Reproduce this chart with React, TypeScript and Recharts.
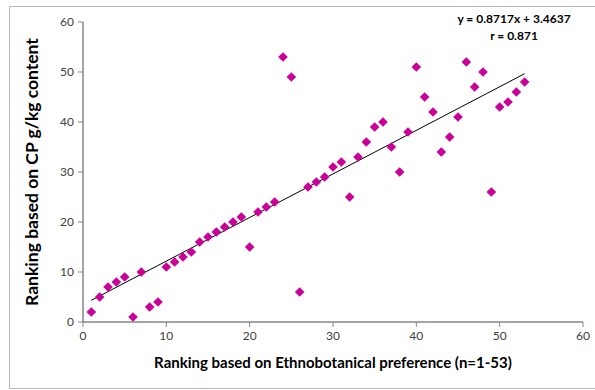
import React from 'react';
import {
  ScatterChart,
  Scatter,
  XAxis,
  YAxis,
  ReferenceLine,
  Label,
} from 'recharts';

// ranking pairs (x = ethnobotanical rank, y = CP rank)
const ethnoRank = [
  1, 2, 3, 4, 5, 6, 7, 8, 9, 10, 11, 12, 13, 14, 15, 16, 17, 18, 19, 20, 21, 22, 23, 24, 25, 26, 27,
  28, 29, 30, 31, 32, 33, 34, 35, 36, 37, 38, 39, 40, 41, 42, 43, 44, 45, 46, 47, 48, 49, 50, 51, 52, 53,
];
const cpRank = [
  2, 5, 7, 8, 9, 1, 10, 3, 4, 11, 12, 13, 14, 16, 17, 18, 19, 20, 21, 15, 22, 23, 24, 53, 49, 6, 27,
  28, 29, 31, 32, 25, 33, 36, 39, 40, 35, 30, 38, 51, 45, 42, 34, 37, 41, 52, 47, 50, 26, 43, 44, 46, 48,
];
const axisTicks = [0, 10, 20, 30, 40, 50, 60];
const slope = 0.8717;
const intercept = 3.4637;
const rValue = 0.871;
const trendRange = [1, 53];

const points = ethnoRank.map((x, i) => ({ x, y: cpRank[i] }));

const FONT = 'Lato, "DejaVu Sans", sans-serif';
const MARKER = '#CC0099';

function Diamond(props: any) {
  const { cx, cy } = props;
  if (cx == null || cy == null) return null;
  const r = 4.8;
  return (
    <polygon
      points={`${cx},${cy - r} ${cx + r},${cy} ${cx},${cy + r} ${cx - r},${cy}`}
      fill={MARKER}
    />
  );
}

export default function App() {
  const tick = { fontSize: 12, fill: '#404040', fontFamily: FONT };
  return (
    <div style={{ position: 'absolute', left: 0, top: 0, width: 595, height: 390 }}>
      <div
        style={{
          position: 'absolute',
          left: 9,
          top: 6,
          width: 600,
          height: 381,
          border: '1px solid #b8b8b8',
        }}
      />
      <div
        style={{
          position: 'absolute',
          left: 429,
          top: 10,
          width: 170,
          textAlign: 'center',
          fontFamily: FONT,
          fontWeight: 700,
          fontSize: 12,
          lineHeight: '17px',
          color: '#000',
        }}
      >
        <div>{`y = ${slope}x + ${intercept}`}</div>
        <div>{`r = ${rValue}`}</div>
      </div>
      <div style={{ position: 'absolute', left: 0, top: 0 }}>
        <ScatterChart
          width={595}
          height={390}
          margin={{ top: 22, right: 12, left: 0, bottom: 0 }}
        >
          <XAxis
            type="number"
            dataKey="x"
            domain={[0, 60]}
            ticks={axisTicks}
            height={68}
            tick={tick}
            tickSize={5}
            tickMargin={4}
            axisLine={{ stroke: '#868686', strokeWidth: 1.5 }}
            tickLine={{ stroke: '#868686' }}
          >
            <Label
              content={(p: any) => {
                const vb = p.viewBox;
                return (
                  <text
                    x={vb.x + vb.width / 2}
                    y={vb.y + 46}
                    textAnchor="middle"
                    fontFamily={FONT}
                    fontWeight={700}
                    fontSize={15}
                    fill="#000"
                  >
                    Ranking based on Ethnobotanical preference (n=1-53)
                  </text>
                );
              }}
            />
          </XAxis>
          <YAxis
            type="number"
            dataKey="y"
            domain={[0, 60]}
            ticks={axisTicks}
            width={83}
            tick={tick}
            tickSize={5}
            tickMargin={4}
            axisLine={{ stroke: '#868686', strokeWidth: 1.5 }}
            tickLine={{ stroke: '#868686' }}
          >
            <Label
              content={(p: any) => {
                const vb = p.viewBox;
                const cx = 38;
                const cy = vb.y + vb.height / 2;
                return (
                  <text
                    x={cx}
                    y={cy}
                    textAnchor="middle"
                    transform={`rotate(-90, ${cx}, ${cy})`}
                    fontFamily={FONT}
                    fontWeight={700}
                    fontSize={17.5}
                    fill="#000"
                  >
                    Ranking based on CP g/kg content
                  </text>
                );
              }}
            />
          </YAxis>
          <ReferenceLine
            segment={[
              { x: trendRange[0], y: slope * trendRange[0] + intercept },
              { x: trendRange[1], y: slope * trendRange[1] + intercept },
            ]}
            stroke="#000"
            strokeWidth={1}
          />
          <Scatter data={points} shape={<Diamond />} isAnimationActive={false} />
        </ScatterChart>
      </div>
    </div>
  );
}
